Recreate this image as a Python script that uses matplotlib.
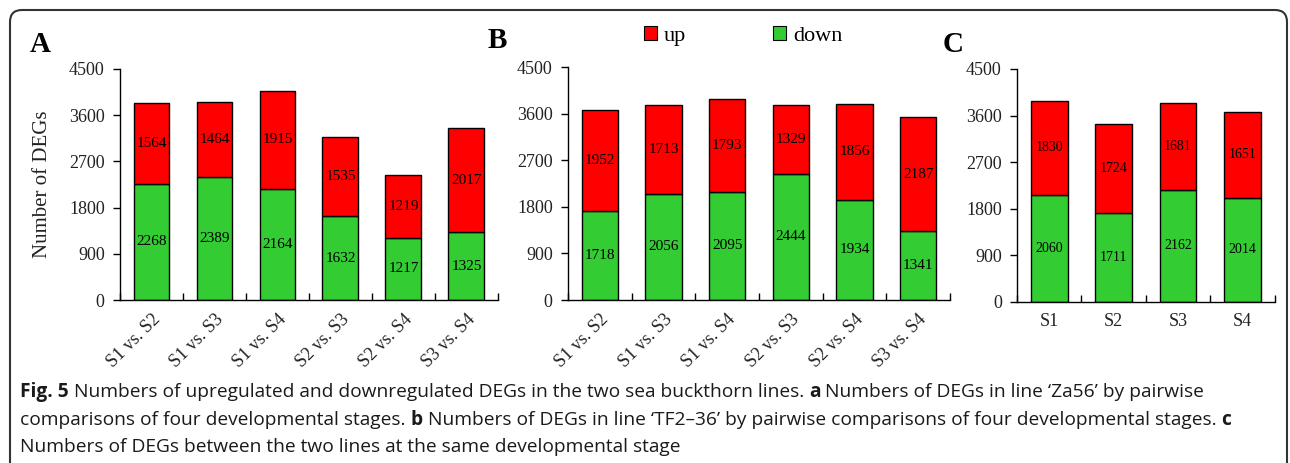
import numpy as np
import matplotlib
matplotlib.use('Agg')
import matplotlib.pyplot as plt
from matplotlib.patches import FancyBboxPatch, Patch
from matplotlib.transforms import IdentityTransform

# Panel A: line 'Za56'
cats_a = ['S1 vs. S2', 'S1 vs. S3', 'S1 vs. S4', 'S2 vs. S3', 'S2 vs. S4', 'S3 vs. S4']
down_a = [2268, 2389, 2164, 1632, 1217, 1325]
up_a = [1564, 1464, 1915, 1535, 1219, 2017]

# Panel B: line 'TF2-36'
cats_b = ['S1 vs. S2', 'S1 vs. S3', 'S1 vs. S4', 'S2 vs. S3', 'S2 vs. S4', 'S3 vs. S4']
down_b = [1718, 2056, 2095, 2444, 1934, 1341]
up_b = [1952, 1713, 1793, 1329, 1856, 2187]

# Panel C: between lines
cats_c = ['S1', 'S2', 'S3', 'S4']
down_c = [2060, 1711, 2162, 2014]
up_c = [1830, 1724, 1681, 1651]

yticks = [0, 900, 1800, 2700, 3600, 4500]

RED = '#ff0000'
GREEN = '#33cc33'
serif = 'Liberation Serif'
plt.rcParams['font.family'] = [serif, 'DejaVu Serif']

fig = plt.figure(figsize=(12.9, 4.63), dpi=100)


def draw_panel(rect, cats, down, up, rotate, lab_size, tick_size):
    ax = fig.add_axes(rect)
    n = len(cats)
    x = np.arange(n)
    ax.bar(x, down, width=0.57, color=GREEN, edgecolor='black', linewidth=1.0)
    ax.bar(x, up, width=0.57, bottom=down, color=RED, edgecolor='black', linewidth=1.0)
    for i in range(n):
        ax.text(x[i], down[i] / 2, str(down[i]), ha='center', va='center',
                fontsize=lab_size, color='black')
        ax.text(x[i], down[i] + up[i] / 2, str(up[i]), ha='center', va='center',
                fontsize=lab_size, color='black')
    ax.set_xlim(-0.5, n - 0.5)
    ax.set_ylim(0, 4500)
    ax.tick_params(axis='x', length=0, pad=8, labelsize=tick_size, labelcolor='#222222')
    ax.tick_params(axis='y', direction='out', length=5, width=1, pad=6,
                   labelsize=13, labelcolor='#222222')
    ax.set_yticks(yticks)
    ax.set_yticklabels([str(v) for v in yticks])
    ax.set_xticks(x)
    if rotate:
        ax.set_xticklabels(cats, rotation=45, ha='right', rotation_mode='anchor')
    else:
        ax.set_xticklabels(cats)
    ax.set_xticks(np.arange(n + 1) - 0.5, minor=True)
    ax.tick_params(axis='x', which='minor', direction='in', length=5, width=1)
    for s in ['top', 'right']:
        ax.spines[s].set_visible(False)
    ax.spines['left'].set_linewidth(1.0)
    ax.spines['bottom'].set_linewidth(1.0)
    ax.set_facecolor('none')
    return ax


ax_a = draw_panel([0.093, 0.352, 0.293, 0.499], cats_a, down_a, up_a, True, 11, 13)
ax_b = draw_panel([0.4403, 0.352, 0.2961, 0.503], cats_b, down_b, up_b, True, 11, 13)
ax_c = draw_panel([0.7884, 0.348, 0.1996, 0.503], cats_c, down_c, up_c, False, 10, 13)

ax_a.set_ylabel('Number of DEGs', fontsize=15, color='#222222', labelpad=12)

fig.text(30 / 1290, 1 - 45 / 463, 'A', fontsize=21, fontweight='bold', va='center')
fig.text(488 / 1290, 1 - 41 / 463, 'B', fontsize=21, fontweight='bold', va='center')
fig.text(943 / 1290, 1 - 44 / 463, 'C', fontsize=21, fontweight='bold', va='center')

handles = [Patch(facecolor=RED, edgecolor='black', linewidth=0.8),
           Patch(facecolor=GREEN, edgecolor='black', linewidth=0.8)]
leg = fig.legend(handles, ['up', 'down'], loc='center', bbox_to_anchor=(743 / 1290, 1 - 36 / 463),
                 ncol=2, frameon=False, handlelength=0.6, handleheight=0.6, handletextpad=0.3,
                 columnspacing=3.9, prop={'size': 16})

# outer rounded frame
frame = FancyBboxPatch((10, -30), 1277, 483, boxstyle='round,pad=0,rounding_size=12',
                       transform=IdentityTransform(), facecolor='none', edgecolor='#333333',
                       linewidth=1.5)
fig.patches.append(frame)

# caption with bold pieces
cap_font = ['Open Sans', 'DejaVu Sans']
cap_size = 13.8
lines = [
    [('Fig. 5', True), (' Numbers of upregulated and downregulated DEGs in the two sea buckthorn lines. ', False),
     ('a', True), (' Numbers of DEGs in line \u2018Za56\u2019 by pairwise', False)],
    [('comparisons of four developmental stages. ', False), ('b', True),
     (' Numbers of DEGs in line \u2018TF2\u201336\u2019 by pairwise comparisons of four developmental stages. ', False),
     ('c', True)],
    [('Numbers of DEGs between the two lines at the same developmental stage', False)],
]
line_y = [392, 420, 447]
fig.canvas.draw()
renderer = fig.canvas.get_renderer()
for pieces, py in zip(lines, line_y):
    xpos = 20
    for txt, bold in pieces:
        t = fig.text(xpos / 1290, 1 - py / 463, txt, family=cap_font, fontsize=cap_size,
                     fontweight='bold' if bold else 'normal', va='center', ha='left', color='#1a1a1a')
        bb = t.get_window_extent(renderer)
        xpos += bb.width

fig.savefig('out.png', dpi=100)
